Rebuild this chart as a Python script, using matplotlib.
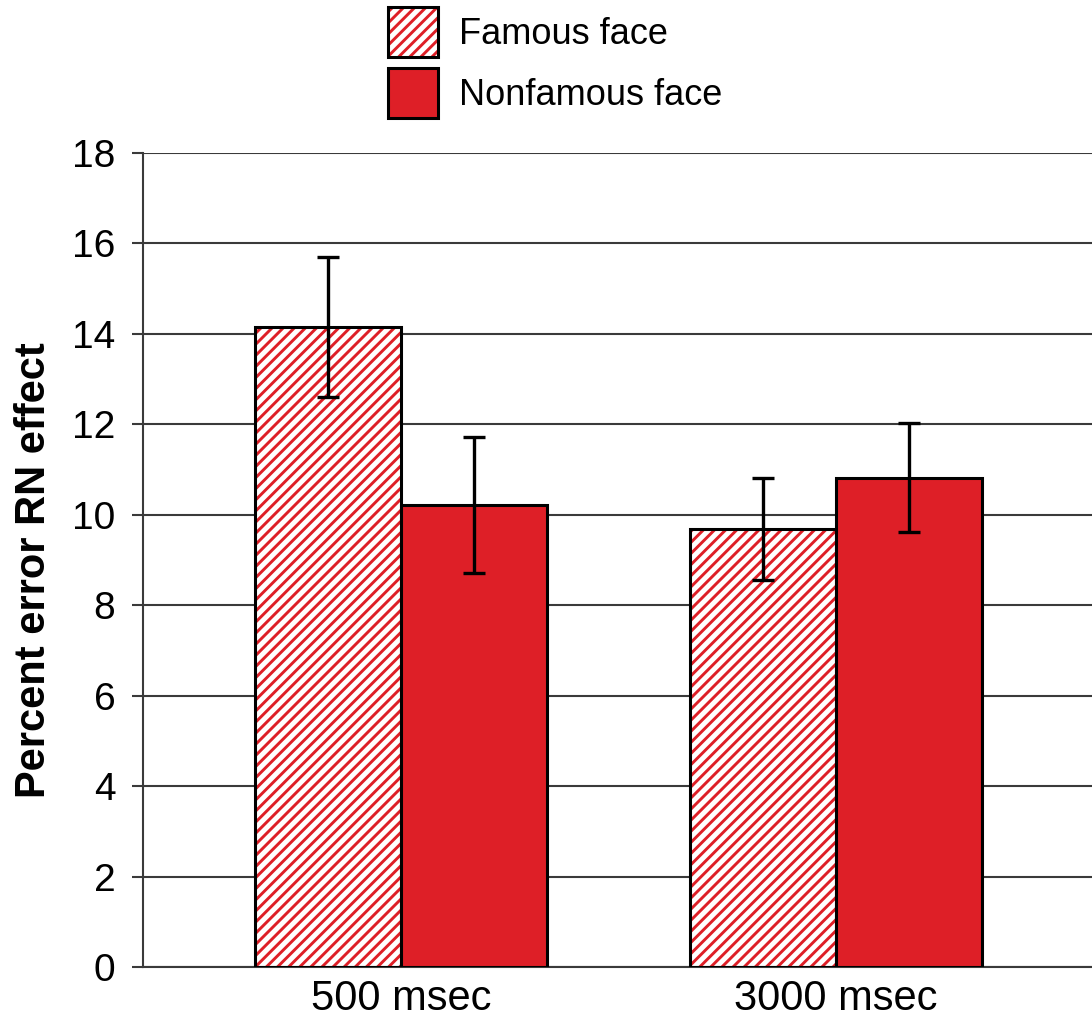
import matplotlib.pyplot as plt
import numpy as np
from matplotlib.patches import Patch

plt.rcParams['font.family'] = ['Liberation Sans', 'DejaVu Sans']
plt.rcParams['hatch.linewidth'] = 2.1

groups = ['500 msec', '3000 msec']
series = ['Famous face', 'Nonfamous face']
famous = [14.15, 9.68]
famous_err = [1.55, 1.13]
nonfamous = [10.22, 10.82]
nonfamous_err = [1.5, 1.2]

red = '#DE1F27'
width = 0.336
x = np.arange(len(groups))

fig = plt.figure(figsize=(10.92, 10.24), dpi=100)
ax = fig.add_axes([0.131, 0.0557, 0.869, 0.795])

# horizontal grid lines
ax.set_axisbelow(True)
ax.yaxis.grid(True, color='#3a3a3a', linewidth=1.5)

# hatched bars: stripes first, then black outline on top
ax.bar(x - width / 2, famous, width, color='white', edgecolor=red,
       hatch='///', linewidth=0, zorder=2)
ax.bar(x - width / 2, famous, width, fill=False, edgecolor='black',
       linewidth=2.2, zorder=3)
ax.bar(x + width / 2, nonfamous, width, color=red, edgecolor='black',
       linewidth=2.2, zorder=3)

ax.errorbar(x - width / 2, famous, yerr=famous_err, fmt='none', ecolor='black',
            elinewidth=2.4, capsize=8, capthick=2.4, zorder=4)
ax.errorbar(x + width / 2, nonfamous, yerr=nonfamous_err, fmt='none', ecolor='black',
            elinewidth=2.4, capsize=8, capthick=2.4, zorder=4)

ax.set_xlim(-0.593, 1.588)
ax.set_ylim(0, 18)
ax.set_yticks(np.arange(0, 19, 2))
ax.set_xticks(x)
ax.set_xticklabels(groups, fontsize=30)
ax.tick_params(axis='x', length=0, pad=9)
ax.tick_params(axis='y', length=8, width=1.5, color='#3a3a3a', labelsize=28, pad=12)

for side in ['top', 'right']:
    ax.spines[side].set_visible(False)
ax.spines['left'].set_color('#3a3a3a')
ax.spines['left'].set_linewidth(1.5)
ax.spines['bottom'].set_color('#3a3a3a')
ax.spines['bottom'].set_linewidth(1.5)

ax.set_ylabel('Percent error RN effect', fontsize=30, fontweight='bold')
ax.yaxis.set_label_coords(-0.094, 0.488)

# legend: hatched swatch gets its own black outline via a tuple handle
hatched = (Patch(facecolor='white', edgecolor=red, hatch='///', linewidth=0),
           Patch(fill=False, edgecolor='black', linewidth=2.2))
solid = Patch(facecolor=red, edgecolor='black', linewidth=2.2)
fig.legend([hatched, solid], series, loc='upper left',
           bbox_to_anchor=(0.3553, 0.993), frameon=False, fontsize=26,
           handlelength=1.38, handleheight=1.75, handletextpad=0.6,
           labelspacing=0.3, borderpad=0, borderaxespad=0)

fig.savefig('out.png', dpi=100, facecolor='white')
